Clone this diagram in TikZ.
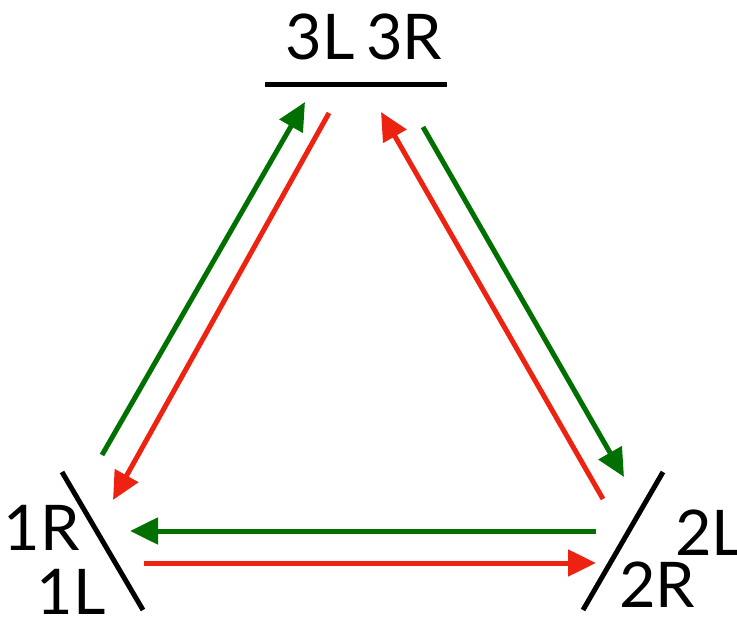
\documentclass[tikz,border=0pt]{standalone}
\usepackage{fontspec}
\setmainfont{Lato}
\usetikzlibrary{arrows.meta}
\definecolor{arrgreen}{RGB}{0,112,0}
\definecolor{arrred}{RGB}{238,34,17}
\begin{document}
\begin{tikzpicture}[x=1pt,y=-1pt,
  bar/.style={line width=5pt,black},
  lbl/.style={inner sep=0pt,font=\fontsize{63}{63}\selectfont},
  garr/.style={line width=5pt,arrgreen,-{Triangle[length=28pt,width=26pt]}},
  rarr/.style={line width=5pt,arrred,-{Triangle[length=28pt,width=26pt]}}]
\useasboundingbox (0,0) rectangle (737,620);
% bars
\coordinate (t1) at (265,85); \coordinate (t2) at (447,85);
\coordinate (l1) at (62,472); \coordinate (l2) at (143,610);
\coordinate (r1) at (663,472); \coordinate (r2) at (583,610);
\draw[bar] (t1) -- (t2);
\draw[bar] (l1) -- (l2);
\draw[bar] (r1) -- (r2);
% labels
\node[lbl,anchor=base east] (n3L) at (355,60) {3L};
\node[lbl,anchor=base west] (n3R) at (366,60) {3R};
\node[lbl,anchor=base east] (n1R) at (80,550) {1R};
\node[lbl,anchor=base east] (n1L) at (106,614) {1L};
\node[lbl,anchor=base west] (n2L) at (675,555) {2L};
\node[lbl,anchor=base west] (n2R) at (619,607) {2R};
% arrow end points
\coordinate (ga) at (102,455); \coordinate (gb) at (305,102);
\coordinate (ra) at (329,113); \coordinate (rb) at (113,500);
\coordinate (rc) at (603,499); \coordinate (rd) at (381,112);
\coordinate (gc) at (423,127); \coordinate (gd) at (624,477);
\coordinate (ge) at (596,531); \coordinate (gf) at (130,531);
\coordinate (rE) at (144,563); \coordinate (rF) at (596,563);
\draw[garr] (ga) -- (gb);
\draw[rarr] (ra) -- (rb);
\draw[rarr] (rc) -- (rd);
\draw[garr] (gc) -- (gd);
\draw[garr] (ge) -- (gf);
\draw[rarr] (rE) -- (rF);
\end{tikzpicture}
\end{document}
